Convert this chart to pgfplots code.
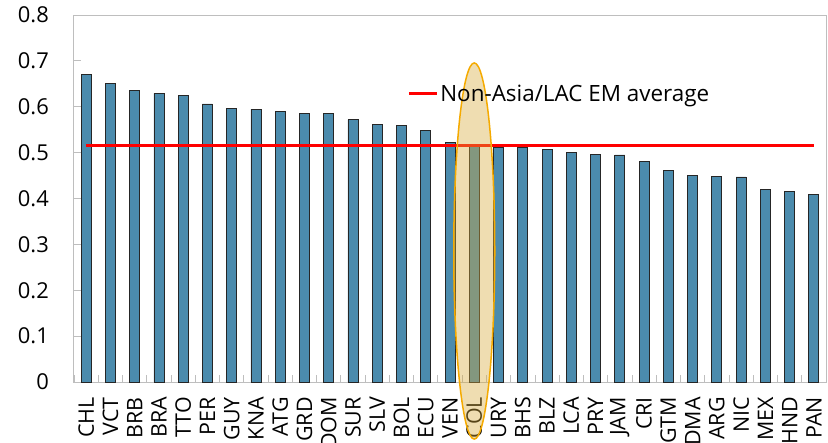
\documentclass[border=0pt]{standalone}
\usepackage{pgfplots}
\pgfplotsset{compat=1.18}
\usepackage{fontspec}
\setmainfont{Open Sans}
\definecolor{barblue}{RGB}{75,139,173}
\definecolor{ellfill}{RGB}{215,170,60}
\definecolor{elldraw}{RGB}{245,170,0}
\definecolor{axgray}{RGB}{190,190,190}
\begin{document}
\begin{tikzpicture}
\useasboundingbox (-74bp,-61bp) rectangle (754bp,382bp);
\begin{axis}[
  scale only axis,
  width=752bp, height=367bp,
  at={(0,0)}, anchor=south west,
  xmin=-0.5, xmax=30.5,
  ymin=0, ymax=0.8,
  ytick={0,0.1,...,0.8},
  yticklabels={0,0.1,0.2,0.3,0.4,0.5,0.6,0.7,0.8},
  xtick={0,...,30},
  xticklabels={CHL,VCT,BRB,BRA,TTO,PER,GUY,KNA,ATG,GRD,DOM,SUR,SLV,BOL,ECU,VEN,COL,URY,BHS,BLZ,LCA,PRY,JAM,CRI,GTM,DMA,ARG,NIC,MEX,HND,PAN},
  minor xtick={-0.5,0.5,...,30.5},
  major x tick style={draw=none},
  minor tick length=7bp,
  major tick length=7bp,
  tick style={axgray, line width=0.8bp},
  tick align=inside,
  axis line style={axgray, line width=1bp},
  xtick pos=bottom, ytick pos=left,
  font=\fontsize{22}{26}\selectfont,
  /pgf/number format/assume math mode=true,
  yticklabel style={inner sep=0pt, font=\fontsize{22}{26}\selectfont},
  yticklabel shift=25bp,
  xticklabel style={inner sep=0pt, rotate=90, anchor=east, font=\fontsize{21.5}{26}\selectfont},
  xticklabel shift=15bp,
  clip=false,
  legend style={at={(rel axis cs:0.443,0.785)}, anchor=west, draw=none, fill=none,
    inner sep=0pt, font=\fontsize{22.5}{26}\selectfont,
    nodes={inner sep=2bp}},
  legend image code/.code={\draw[line width=3bp] (0bp,0bp) -- (28bp,0bp);},
]
\addplot[ybar, bar width=10bp, fill=barblue, draw=black!85, line width=0.8bp, forget plot]
  coordinates {
  (0,0.670) (1,0.650) (2,0.636) (3,0.629) (4,0.625) (5,0.606) (6,0.597) (7,0.595)
  (8,0.589) (9,0.585) (10,0.585) (11,0.572) (12,0.561) (13,0.559) (14,0.548)
  (15,0.523) (16,0.515) (17,0.512) (18,0.511) (19,0.506) (20,0.500) (21,0.497)
  (22,0.495) (23,0.481) (24,0.461) (25,0.451) (26,0.449) (27,0.447) (28,0.419)
  (29,0.415) (30,0.408)};
\addplot[red, line width=3bp, mark=none] coordinates {(0,0.516) (30,0.516)};
\addlegendentry{Non-Asia/LAC EM average}
\draw[elldraw, line width=1.5bp, fill=ellfill, fill opacity=0.4]
  (axis cs:16,0.2855) ellipse [x radius=0.845, y radius=0.41];
\end{axis}
\end{tikzpicture}
\end{document}
